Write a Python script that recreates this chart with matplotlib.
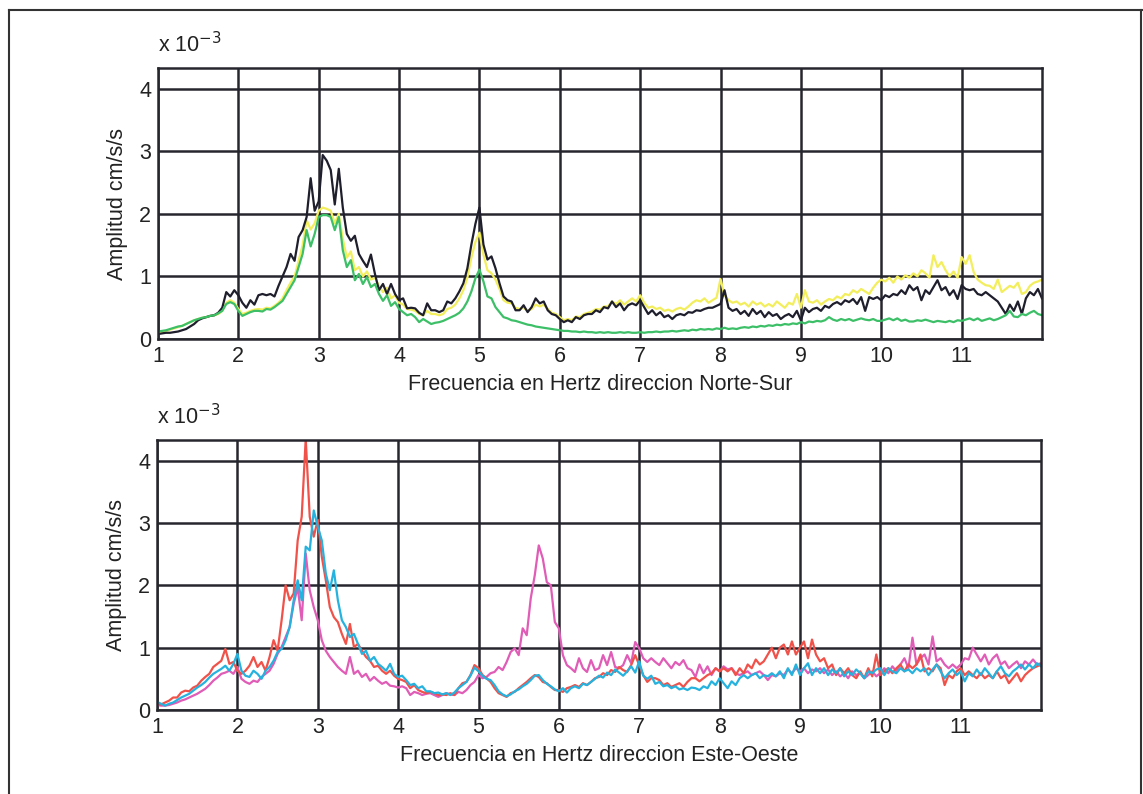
import numpy as np
import matplotlib
matplotlib.use('Agg')
import matplotlib.pyplot as plt
from matplotlib.lines import Line2D

plt.rcParams['font.family'] = ['Liberation Sans', 'DejaVu Sans']

# frequency grid, 0.05 Hz steps from 1 to 12 Hz (221 samples)
freq = np.round(np.arange(221) * 0.05 + 1.0, 2)

# amplitudes in units of 1e-3 cm/s/s, one row per Hz (1.00 .. 1.95, 2.00 .. 2.95, ...)
ns_yellow = [
    0.10, 0.11, 0.13, 0.15, 0.17, 0.19, 0.21, 0.24, 0.27, 0.30, 0.32, 0.34, 0.35, 0.37, 0.38, 0.40, 0.45, 0.58, 0.62, 0.58,
    0.48, 0.40, 0.42, 0.45, 0.47, 0.48, 0.47, 0.50, 0.49, 0.53, 0.58, 0.65, 0.78, 0.90, 1.00, 1.25, 1.50, 1.90, 1.75, 1.85,
    2.05, 2.10, 2.08, 2.05, 1.85, 2.00, 1.60, 1.30, 1.40, 1.10, 1.15, 1.00, 1.08, 0.95, 0.98, 0.85, 0.75, 0.82, 0.65, 0.70,
    0.58, 0.55, 0.48, 0.47, 0.45, 0.40, 0.38, 0.45, 0.40, 0.40, 0.38, 0.40, 0.48, 0.50, 0.55, 0.65, 0.78, 0.98, 1.30, 1.55,
    1.70, 1.35, 1.10, 1.05, 0.95, 0.80, 0.62, 0.58, 0.57, 0.50, 0.48, 0.50, 0.45, 0.48, 0.55, 0.52, 0.55, 0.48, 0.42, 0.40,
    0.35, 0.30, 0.32, 0.30, 0.36, 0.35, 0.40, 0.42, 0.44, 0.48, 0.47, 0.52, 0.52, 0.60, 0.56, 0.62, 0.55, 0.60, 0.65, 0.60,
    0.70, 0.58, 0.50, 0.52, 0.48, 0.50, 0.45, 0.47, 0.44, 0.48, 0.50, 0.47, 0.52, 0.58, 0.62, 0.60, 0.65, 0.58, 0.62, 0.66,
    0.96, 0.70, 0.62, 0.58, 0.60, 0.55, 0.58, 0.52, 0.60, 0.55, 0.58, 0.52, 0.56, 0.52, 0.60, 0.55, 0.50, 0.58, 0.55, 0.72,
    0.50, 0.78, 0.60, 0.58, 0.62, 0.55, 0.60, 0.64, 0.62, 0.68, 0.65, 0.72, 0.70, 0.78, 0.74, 0.80, 0.76, 0.72, 0.82, 0.90,
    0.95, 0.92, 0.98, 0.90, 1.00, 0.95, 1.02, 0.98, 1.05, 1.00, 1.10, 1.05, 0.98, 1.34, 1.15, 1.23, 1.10, 1.00, 1.08, 0.98,
    1.31, 1.20, 1.34, 1.07, 0.95, 0.90, 0.86, 0.85, 0.80, 0.95, 0.75, 0.80, 0.85, 0.82, 0.90, 0.72, 0.75, 0.85, 0.90, 0.92,
    0.95]

ns_black = [
    0.08, 0.09, 0.10, 0.10, 0.11, 0.12, 0.14, 0.16, 0.20, 0.24, 0.30, 0.33, 0.35, 0.37, 0.38, 0.42, 0.50, 0.75, 0.68, 0.78,
    0.70, 0.58, 0.50, 0.62, 0.55, 0.70, 0.72, 0.70, 0.72, 0.68, 0.85, 1.00, 1.15, 1.36, 1.25, 1.63, 1.74, 1.95, 2.57, 2.05,
    2.20, 2.94, 2.85, 2.70, 2.15, 2.72, 2.10, 1.68, 1.57, 1.65, 1.36, 1.25, 1.15, 1.35, 1.04, 0.78, 0.88, 0.72, 0.88, 0.72,
    0.62, 0.65, 0.49, 0.50, 0.49, 0.42, 0.38, 0.57, 0.46, 0.46, 0.43, 0.46, 0.60, 0.57, 0.65, 0.76, 0.89, 1.13, 1.51, 1.84,
    2.10, 1.51, 1.27, 1.32, 1.13, 0.89, 0.68, 0.62, 0.60, 0.46, 0.46, 0.54, 0.43, 0.51, 0.65, 0.57, 0.60, 0.46, 0.40, 0.38,
    0.32, 0.27, 0.30, 0.27, 0.35, 0.32, 0.38, 0.40, 0.40, 0.46, 0.43, 0.51, 0.49, 0.60, 0.51, 0.57, 0.46, 0.54, 0.57, 0.54,
    0.62, 0.51, 0.40, 0.46, 0.38, 0.43, 0.35, 0.38, 0.32, 0.38, 0.40, 0.38, 0.43, 0.42, 0.46, 0.45, 0.48, 0.50, 0.50, 0.53,
    0.56, 0.78, 0.50, 0.45, 0.48, 0.40, 0.45, 0.37, 0.48, 0.40, 0.45, 0.35, 0.43, 0.37, 0.40, 0.32, 0.37, 0.40, 0.35, 0.45,
    0.30, 0.50, 0.43, 0.48, 0.50, 0.45, 0.53, 0.50, 0.56, 0.59, 0.55, 0.62, 0.59, 0.64, 0.56, 0.67, 0.45, 0.67, 0.64, 0.67,
    0.62, 0.70, 0.67, 0.72, 0.70, 0.78, 0.72, 0.86, 0.78, 0.83, 0.62, 0.78, 0.72, 0.83, 0.94, 0.78, 0.83, 0.70, 0.78, 0.64,
    0.86, 0.80, 0.78, 0.80, 0.72, 0.70, 0.75, 0.70, 0.65, 0.60, 0.50, 0.40, 0.55, 0.45, 0.60, 0.40, 0.65, 0.75, 0.70, 0.80,
    0.65]

ns_green = [
    0.12, 0.13, 0.14, 0.16, 0.18, 0.20, 0.21, 0.24, 0.27, 0.30, 0.32, 0.34, 0.35, 0.37, 0.38, 0.41, 0.45, 0.56, 0.59, 0.56,
    0.45, 0.37, 0.40, 0.43, 0.45, 0.45, 0.44, 0.48, 0.47, 0.51, 0.56, 0.61, 0.72, 0.83, 0.94, 1.15, 1.36, 1.74, 1.48, 1.68,
    1.95, 1.98, 1.98, 1.95, 1.74, 1.95, 1.42, 1.15, 1.26, 0.94, 1.04, 0.88, 0.99, 0.83, 0.88, 0.72, 0.61, 0.70, 0.53, 0.59,
    0.48, 0.43, 0.38, 0.40, 0.35, 0.27, 0.32, 0.28, 0.24, 0.26, 0.27, 0.29, 0.32, 0.35, 0.38, 0.42, 0.49, 0.60, 0.76, 0.97,
    1.11, 0.92, 0.68, 0.65, 0.51, 0.43, 0.35, 0.33, 0.30, 0.29, 0.27, 0.25, 0.23, 0.22, 0.20, 0.19, 0.18, 0.17, 0.16, 0.15,
    0.14, 0.13, 0.13, 0.12, 0.12, 0.11, 0.12, 0.11, 0.11, 0.10, 0.11, 0.10, 0.11, 0.10, 0.10, 0.11, 0.10, 0.11, 0.10, 0.10,
    0.11, 0.10, 0.11, 0.11, 0.12, 0.11, 0.12, 0.12, 0.13, 0.12, 0.13, 0.14, 0.13, 0.15, 0.14, 0.16, 0.15, 0.16, 0.15, 0.17,
    0.16, 0.18, 0.16, 0.17, 0.16, 0.18, 0.19, 0.18, 0.20, 0.19, 0.21, 0.20, 0.22, 0.21, 0.23, 0.22, 0.24, 0.23, 0.25, 0.24,
    0.27, 0.25, 0.28, 0.27, 0.29, 0.28, 0.30, 0.35, 0.31, 0.29, 0.32, 0.30, 0.32, 0.29, 0.31, 0.33, 0.31, 0.30, 0.32, 0.29,
    0.29, 0.31, 0.33, 0.30, 0.33, 0.29, 0.31, 0.28, 0.28, 0.30, 0.29, 0.31, 0.29, 0.27, 0.29, 0.28, 0.27, 0.29, 0.27, 0.30,
    0.29, 0.31, 0.33, 0.30, 0.33, 0.29, 0.31, 0.33, 0.30, 0.32, 0.35, 0.38, 0.45, 0.36, 0.35, 0.40, 0.38, 0.42, 0.45, 0.40,
    0.38]

eo_magenta = [
    0.08, 0.07, 0.07, 0.08, 0.10, 0.12, 0.15, 0.17, 0.20, 0.23, 0.26, 0.30, 0.34, 0.40, 0.47, 0.52, 0.58, 0.60, 0.63, 0.58,
    0.69, 0.50, 0.45, 0.42, 0.47, 0.45, 0.53, 0.58, 0.63, 0.74, 0.90, 1.01, 1.17, 1.33, 1.70, 1.97, 1.44, 2.51, 1.92, 1.65,
    1.44, 1.12, 0.95, 0.85, 0.77, 0.69, 0.63, 0.58, 0.85, 0.58, 0.63, 0.53, 0.58, 0.47, 0.53, 0.47, 0.42, 0.45, 0.39, 0.38,
    0.36, 0.38, 0.35, 0.24, 0.29, 0.27, 0.24, 0.26, 0.27, 0.24, 0.21, 0.24, 0.27, 0.25, 0.24, 0.29, 0.27, 0.32, 0.40, 0.45,
    0.56, 0.51, 0.53, 0.59, 0.61, 0.69, 0.64, 0.77, 0.93, 0.99, 0.88, 1.31, 1.20, 1.79, 2.16, 2.64, 2.43, 2.05, 2.00, 1.41,
    1.31, 0.88, 0.72, 0.67, 0.61, 0.83, 0.67, 0.61, 0.80, 0.64, 0.67, 0.88, 0.72, 0.93, 0.69, 0.67, 0.72, 0.88, 0.75, 1.09,
    0.99, 0.83, 0.77, 0.83, 0.77, 0.72, 0.83, 0.75, 0.67, 0.77, 0.72, 0.80, 0.67, 0.64, 0.53, 0.73, 0.59, 0.70, 0.56, 0.67,
    0.62, 0.70, 0.65, 0.67, 0.59, 0.56, 0.59, 0.62, 0.56, 0.59, 0.62, 0.56, 0.48, 0.56, 0.54, 0.59, 0.56, 0.65, 0.59, 0.67,
    0.62, 0.67, 0.59, 0.65, 0.62, 0.67, 0.59, 0.65, 0.56, 0.62, 0.54, 0.59, 0.51, 0.62, 0.56, 0.59, 0.51, 0.56, 0.62, 0.54,
    0.59, 0.67, 0.59, 0.70, 0.62, 0.73, 0.83, 0.67, 1.16, 0.73, 0.83, 0.89, 0.73, 1.18, 0.78, 0.83, 0.73, 0.67, 0.73, 0.67,
    0.73, 0.83, 0.81, 1.00, 0.89, 0.78, 0.89, 0.73, 0.83, 0.89, 0.73, 0.78, 0.67, 0.73, 0.78, 0.67, 0.78, 0.73, 0.81, 0.73,
    0.75]

eo_red = [
    0.10, 0.09, 0.12, 0.15, 0.20, 0.20, 0.28, 0.31, 0.30, 0.36, 0.39, 0.47, 0.53, 0.58, 0.69, 0.74, 0.79, 0.98, 0.74, 0.77,
    0.63, 0.58, 0.63, 0.71, 0.85, 0.69, 0.77, 0.63, 0.85, 1.12, 0.95, 1.44, 2.00, 1.76, 1.87, 2.72, 3.10, 4.35, 3.10, 2.78,
    3.05, 2.46, 2.08, 1.65, 1.49, 1.41, 1.22, 1.06, 1.38, 1.01, 1.06, 0.95, 0.85, 0.79, 0.69, 0.71, 0.63, 0.58, 0.63, 0.55,
    0.50, 0.48, 0.45, 0.35, 0.40, 0.32, 0.29, 0.27, 0.29, 0.27, 0.24, 0.25, 0.24, 0.27, 0.24, 0.35, 0.43, 0.45, 0.56, 0.72,
    0.67, 0.56, 0.51, 0.45, 0.35, 0.27, 0.24, 0.21, 0.27, 0.29, 0.35, 0.40, 0.45, 0.51, 0.56, 0.53, 0.45, 0.43, 0.37, 0.32,
    0.32, 0.29, 0.35, 0.37, 0.40, 0.37, 0.43, 0.40, 0.45, 0.51, 0.53, 0.59, 0.56, 0.64, 0.61, 0.69, 0.64, 0.61, 0.72, 0.88,
    0.72, 0.56, 0.45, 0.51, 0.51, 0.48, 0.40, 0.43, 0.37, 0.40, 0.43, 0.37, 0.45, 0.51, 0.51, 0.46, 0.51, 0.56, 0.59, 0.67,
    0.62, 0.67, 0.62, 0.67, 0.56, 0.67, 0.59, 0.73, 0.67, 0.81, 0.73, 0.78, 0.89, 1.00, 0.83, 1.00, 1.05, 0.89, 1.10, 0.89,
    1.00, 1.10, 0.83, 1.13, 0.89, 0.78, 0.83, 0.67, 0.73, 0.56, 0.67, 0.59, 0.67, 0.56, 0.51, 0.62, 0.51, 0.67, 0.54, 0.89,
    0.56, 0.62, 0.67, 0.59, 0.67, 0.73, 0.62, 0.73, 0.67, 0.73, 0.89, 0.62, 0.67, 0.62, 0.73, 0.67, 0.40, 0.56, 0.51, 0.62,
    0.67, 0.56, 0.62, 0.56, 0.51, 0.59, 0.51, 0.56, 0.51, 0.62, 0.51, 0.56, 0.43, 0.51, 0.59, 0.46, 0.56, 0.62, 0.67, 0.70,
    0.73]

eo_cyan = [
    0.13, 0.10, 0.07, 0.10, 0.12, 0.16, 0.20, 0.23, 0.26, 0.31, 0.36, 0.40, 0.45, 0.52, 0.58, 0.62, 0.66, 0.71, 0.63, 0.74,
    0.90, 0.63, 0.55, 0.53, 0.63, 0.58, 0.50, 0.63, 0.69, 0.79, 0.93, 0.98, 1.12, 1.33, 1.76, 2.08, 1.76, 2.62, 2.56, 3.20,
    2.94, 2.72, 2.19, 1.92, 2.24, 1.76, 1.44, 1.33, 1.17, 1.22, 1.06, 0.90, 0.95, 0.79, 0.85, 0.74, 0.69, 0.63, 0.74, 0.58,
    0.53, 0.55, 0.48, 0.40, 0.42, 0.35, 0.38, 0.30, 0.30, 0.27, 0.28, 0.25, 0.27, 0.24, 0.28, 0.35, 0.40, 0.45, 0.55, 0.68,
    0.62, 0.55, 0.50, 0.48, 0.40, 0.30, 0.25, 0.22, 0.25, 0.30, 0.33, 0.38, 0.42, 0.48, 0.55, 0.56, 0.48, 0.42, 0.38, 0.33,
    0.30, 0.35, 0.28, 0.35, 0.38, 0.35, 0.42, 0.40, 0.45, 0.50, 0.55, 0.52, 0.60, 0.56, 0.65, 0.60, 0.55, 0.62, 0.70, 0.60,
    0.78, 0.55, 0.50, 0.55, 0.42, 0.45, 0.38, 0.40, 0.35, 0.38, 0.33, 0.35, 0.32, 0.36, 0.35, 0.32, 0.38, 0.35, 0.46, 0.40,
    0.51, 0.43, 0.35, 0.46, 0.40, 0.51, 0.56, 0.51, 0.56, 0.59, 0.51, 0.56, 0.54, 0.59, 0.54, 0.62, 0.51, 0.67, 0.56, 0.73,
    0.56, 0.67, 0.75, 0.56, 0.67, 0.59, 0.67, 0.56, 0.65, 0.59, 0.67, 0.54, 0.62, 0.56, 0.65, 0.59, 0.51, 0.62, 0.59, 0.65,
    0.67, 0.56, 0.67, 0.62, 0.59, 0.67, 0.62, 0.65, 0.59, 0.67, 0.62, 0.67, 0.56, 0.65, 0.73, 0.62, 0.51, 0.59, 0.65, 0.56,
    0.62, 0.46, 0.59, 0.54, 0.65, 0.56, 0.67, 0.59, 0.51, 0.62, 0.70, 0.59, 0.54, 0.62, 0.67, 0.73, 0.65, 0.73, 0.67, 0.75,
    0.70]

xticks = list(range(1, 12))
yticks = [0, 1, 2, 3, 4]
ylabel = 'Amplitud cm/s/s'
xlabel_ns = 'Frecuencia en Hertz direccion Norte-Sur'
xlabel_eo = 'Frecuencia en Hertz direccion Este-Oeste'

gridcol = '#26262e'
fs = 15.5

fig = plt.figure(figsize=(11.43, 7.94), dpi=100)
fig.patch.set_facecolor('white')

# page frame of the scanned document
fig.add_artist(Line2D([0.008, 0.008], [0.0, 0.988], color='#333333', lw=1.5))
fig.add_artist(Line2D([0.008, 1.0], [0.988, 0.988], color='#333333', lw=1.5))
fig.add_artist(Line2D([0.998, 0.998], [0.0, 0.988], color='#333333', lw=1.5))

ax1 = fig.add_axes([0.1382, 0.5730, 0.7734, 0.3413])
ax2 = fig.add_axes([0.1374, 0.1058, 0.7734, 0.3400])

ax1.plot(freq, ns_yellow, color='#f3ee5c', lw=1.6)
ax1.plot(freq, ns_black, color='#1e1e2c', lw=1.6)
ax1.plot(freq, ns_green, color='#3dbf68', lw=1.6)

ax2.plot(freq, eo_magenta, color='#e05cb6', lw=1.6)
ax2.plot(freq, eo_red, color='#f0524a', lw=1.6)
ax2.plot(freq, eo_cyan, color='#26b2de', lw=1.6)

for ax, xl in ((ax1, xlabel_ns), (ax2, xlabel_eo)):
    ax.set_xlim(1, 12)
    ax.set_ylim(0, 4.33)
    ax.set_xticks(xticks)
    ax.set_yticks(yticks)
    ax.tick_params(direction='in', length=0, labelsize=fs, colors='#222222', pad=5)
    ax.grid(True, color=gridcol, lw=1.8, ls='-')
    ax.set_axisbelow(True)
    for s in ax.spines.values():
        s.set_color(gridcol)
        s.set_linewidth(1.8)
    ax.set_xlabel(xl, fontsize=fs, color='#222222', labelpad=5)
    ax.set_ylabel(ylabel, fontsize=fs, color='#222222', labelpad=8)
    ax.text(0.0, 1.04, r'x 10$^{-3}$', transform=ax.transAxes, fontsize=fs,
            color='#222222', ha='left', va='bottom')

fig.savefig('out.png', dpi=100)
